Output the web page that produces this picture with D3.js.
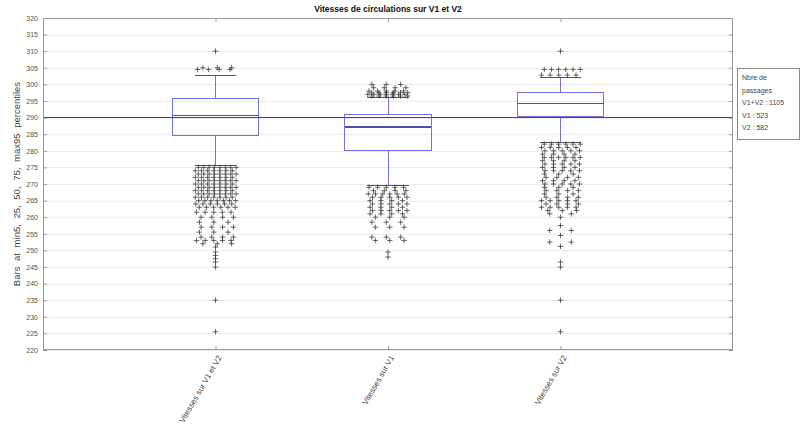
<!DOCTYPE html>
<html>
<head>
<meta charset="utf-8">
<script src="https://cdn.jsdelivr.net/npm/d3@7"></script>
<style>
  body { margin: 0; background: #fff; }
  text { font-family: "Liberation Sans", Arial, sans-serif; }
</style>
</head>
<body>
<svg id="chart" width="800" height="430"></svg>
<script>
// categories and box statistics (min5, 25, 50, 75, max95)
const categories = ["Vitesses sur V1 et V2", "Vitesses sur V1", "Vitesses sur V2"];
const whiskLow  = [275.5, 269.5, 282.5];
const q1        = [284.5, 280.0, 290.2];
const median    = [290.6, 287.2, 294.3];
const q3        = [295.8, 291.0, 297.6];
const whiskHigh = [302.8, 296.2, 302.2];

// outliers as [value, count]
const outliersAll = [
  [310, 1], [305, 3], [304.5, 4],
  [275, 8], [274, 7], [273, 8], [272, 7], [271, 8], [270, 7], [269, 8], [268, 7],
  [267, 8], [266, 7], [265, 7], [264, 6], [263, 6], [261.5, 5], [260, 4], [258.5, 3],
  [257, 4], [255.5, 3], [254, 4], [253, 5], [252, 3],
  [251, 1], [249.5, 1], [248.5, 1], [247.5, 1], [246.5, 1], [245, 1],
  [235, 1], [225.5, 1]
];
const outliersV1 = [
  [300, 3], [299, 4], [298, 5], [297.5, 6], [297, 7], [296.5, 6],
  [269, 5], [268, 4], [267, 6], [266, 5], [265, 4], [264, 5], [263, 4], [262, 5],
  [261, 4], [260, 3], [258.5, 3], [257, 3], [254, 3], [253, 3],
  [249.5, 1], [248, 1]
];
const outliersV2 = [
  [310, 1], [304.5, 6], [302.8, 5],
  [282, 6], [281, 5], [280, 5], [279, 4], [278, 6], [277, 4], [276, 5], [275, 4],
  [274, 5], [273, 3], [272, 4], [271, 4], [270, 5], [269, 3], [268, 4], [267, 3],
  [266, 4], [265, 5], [264, 4], [263, 5], [262, 3], [261, 2],
  [260, 1], [257.5, 1], [256, 2], [254.5, 1], [252.5, 2], [251.2, 1],
  [246.5, 1], [245, 1], [235, 1], [225.5, 1]
];
const outliers = [outliersAll, outliersV1, outliersV2];

const yTicks = d3.range(220, 321, 5);
const refLine = 290;
const legendLines = ["Nbre de", "passages", "V1+V2 : 1105", "V1 : 523", "V2 : 582"];

const margin = { top: 18, right: 67, bottom: 80, left: 43 };
const width = 800 - margin.left - margin.right;
const height = 430 - margin.top - margin.bottom;

const svg = d3.select("#chart");
const g = svg.append("g")
  .attr("transform", "translate(" + margin.left + "," + margin.top + ")");

const x = d3.scaleLinear().domain([0, 4]).range([0, width]);
const y = d3.scaleLinear().domain([220, 320]).range([height, 0]);

// grid
g.append("g").selectAll("line")
  .data(yTicks)
  .join("line")
  .attr("x1", 0).attr("x2", width)
  .attr("y1", d => Math.round(y(d)) + 0.5).attr("y2", d => Math.round(y(d)) + 0.5)
  .attr("stroke", "#ebebeb");

// axes
const tickColor = "#555";
const axLeft = g.append("g")
  .call(d3.axisLeft(y).tickValues(yTicks).tickSize(-4).tickPadding(5));
const axRight = g.append("g").attr("transform", "translate(" + width + ",0)")
  .call(d3.axisRight(y).tickValues(yTicks).tickSize(-4).tickFormat(""));
const axBottom = g.append("g").attr("transform", "translate(0," + height + ")")
  .call(d3.axisBottom(x).tickValues([1, 2, 3]).tickSize(-4).tickFormat(""));
const axTop = g.append("g")
  .call(d3.axisTop(x).tickValues([1, 2, 3]).tickSize(-4).tickFormat(""));
[axLeft, axRight, axBottom, axTop].forEach(a => {
  a.select(".domain").remove();
  a.selectAll("line").attr("stroke", "#999");
  a.selectAll("text").attr("fill", tickColor).style("font-size", "7px")
    .style("font-family", "Liberation Sans, Arial, sans-serif");
});

// frame
g.append("rect")
  .attr("x", 0.5).attr("y", 0.5)
  .attr("width", width - 1).attr("height", height - 1)
  .attr("fill", "none").attr("stroke", "#999");

// category labels
g.append("g").selectAll("text")
  .data(categories)
  .join("text")
  .attr("transform", (d, i) => "translate(" + (x(i + 1) + 4) + "," + (height + 6) + ") rotate(-60)")
  .attr("text-anchor", "end")
  .attr("dy", "0.35em")
  .attr("fill", "#444")
  .style("font-size", "8px")
  .text(d => d);

// boxes
const boxHalf = 0.25;
const capHalf = 0.12;
const jitterHalf = 0.125;
const boxColor = "#7272e0";

const boxes = g.append("g").selectAll("g")
  .data(categories)
  .join("g")
  .attr("shape-rendering", "crispEdges");

boxes.append("line")
  .attr("x1", (d, i) => x(i + 1)).attr("x2", (d, i) => x(i + 1))
  .attr("y1", (d, i) => y(q3[i])).attr("y2", (d, i) => y(whiskHigh[i]))
  .attr("stroke", boxColor);
boxes.append("line")
  .attr("x1", (d, i) => x(i + 1)).attr("x2", (d, i) => x(i + 1))
  .attr("y1", (d, i) => y(q1[i])).attr("y2", (d, i) => y(whiskLow[i]))
  .attr("stroke", boxColor);
boxes.append("line")
  .attr("x1", (d, i) => x(i + 1 - capHalf)).attr("x2", (d, i) => x(i + 1 + capHalf))
  .attr("y1", (d, i) => y(whiskHigh[i])).attr("y2", (d, i) => y(whiskHigh[i]))
  .attr("stroke", "#555");
boxes.append("line")
  .attr("x1", (d, i) => x(i + 1 - capHalf)).attr("x2", (d, i) => x(i + 1 + capHalf))
  .attr("y1", (d, i) => y(whiskLow[i])).attr("y2", (d, i) => y(whiskLow[i]))
  .attr("stroke", "#555");
boxes.append("rect")
  .attr("x", (d, i) => x(i + 1 - boxHalf))
  .attr("width", x(2 * boxHalf) - x(0))
  .attr("y", (d, i) => y(q3[i]))
  .attr("height", (d, i) => y(q1[i]) - y(q3[i]))
  .attr("fill", "none").attr("stroke", boxColor);
boxes.append("line")
  .attr("x1", (d, i) => x(i + 1 - boxHalf)).attr("x2", (d, i) => x(i + 1 + boxHalf))
  .attr("y1", (d, i) => y(median[i])).attr("y2", (d, i) => y(median[i]))
  .attr("stroke", "#5050a8").attr("stroke-width", 1.5);

// reference line, drawn above the boxes
g.append("line")
  .attr("x1", 1).attr("x2", width - 1)
  .attr("y1", y(refLine)).attr("y2", y(refLine))
  .attr("stroke", "red").attr("stroke-width", 1)
  .attr("shape-rendering", "crispEdges");

// outliers, spread horizontally within each value row
const points = [];
outliers.forEach((rows, i) => {
  rows.forEach(([v, n], r) => {
    for (let k = 0; k < n; k++) {
      let off = n === 1 ? 0 : ((k + 0.5) / n - 0.5) * 2 * jitterHalf;
      if (n > 2) off += (r % 2 ? 0.01 : -0.01);
      points.push({ cx: x(i + 1 + off), cy: y(v) });
    }
  });
});
g.append("path")
  .attr("d", points.map(p => "M" + (p.cx - 2.7) + "," + p.cy + "h5.4M" + p.cx + "," + (p.cy - 2.7) + "v5.4").join(""))
  .attr("stroke", "#2a2a2a").attr("stroke-width", 0.7).attr("fill", "none");

// title
svg.append("text")
  .attr("x", margin.left + width / 2).attr("y", 12)
  .attr("text-anchor", "middle")
  .style("font-size", "8.5px").style("font-weight", "bold")
  .attr("fill", "#111")
  .text("Vitesses de circulations sur V1 et V2");

// y label
svg.append("text")
  .attr("transform", "translate(20," + (margin.top + height / 2) + ") rotate(-90)")
  .attr("text-anchor", "middle")
  .attr("fill", "#444")
  .style("font-size", "9.5px")
  .style("word-spacing", "3px")
  .text("Bars at  min5, 25, 50, 75, max95  percentiles");

// legend
const lg = svg.append("g").attr("transform", "translate(737,68)");
lg.append("rect")
  .attr("x", 0.5).attr("y", 0.5)
  .attr("width", 62).attr("height", 71)
  .attr("fill", "#fff").attr("stroke", "#888");
lg.selectAll("text")
  .data(legendLines)
  .join("text")
  .attr("x", 5).attr("y", (d, i) => 12 + i * 12.6)
  .attr("fill", "#444")
  .style("font-size", "7px")
  .text(d => d);
</script>
</body>
</html>
